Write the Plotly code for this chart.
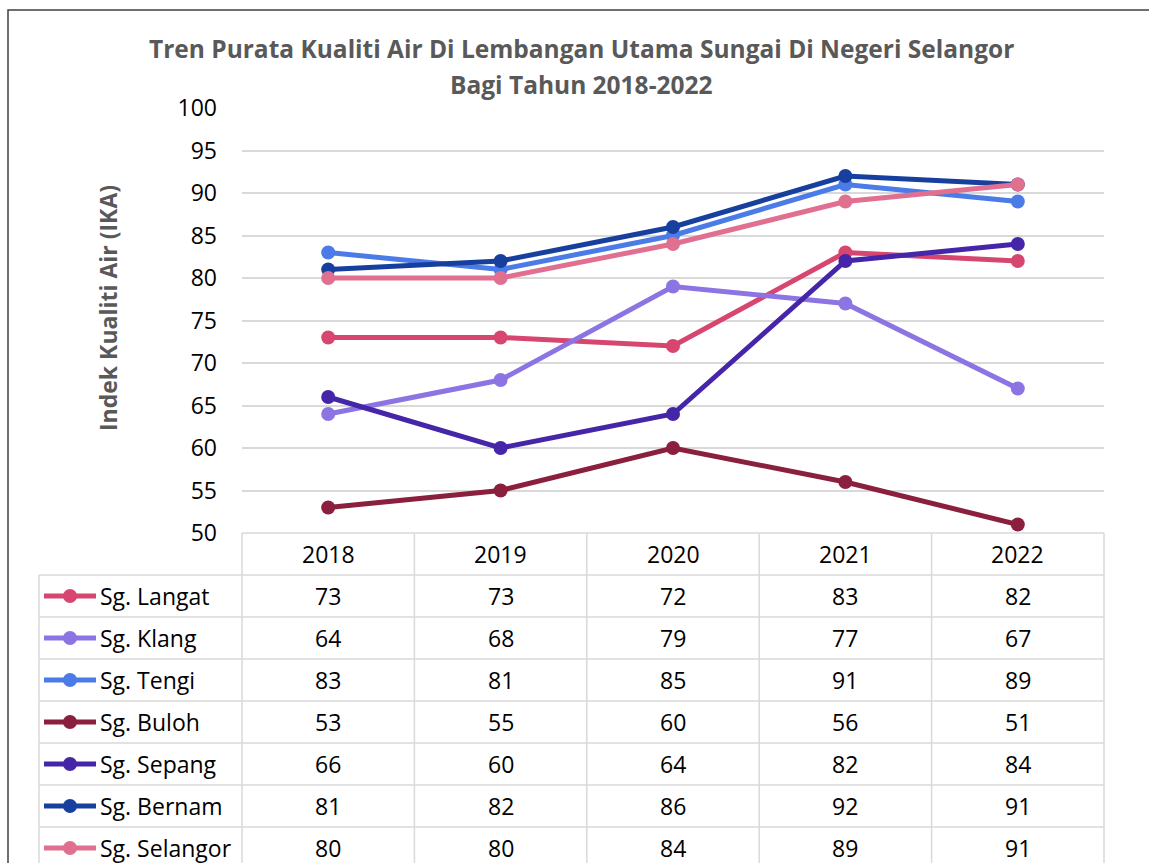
import plotly.graph_objects as go

# ---- data ----
years = ["2018", "2019", "2020", "2021", "2022"]
series_names = ["Sg. Langat", "Sg. Klang", "Sg. Tengi", "Sg. Buloh", "Sg. Sepang", "Sg. Bernam", "Sg. Selangor"]
langat = [73, 73, 72, 83, 82]
klang = [64, 68, 79, 77, 67]
tengi = [83, 81, 85, 91, 89]
buloh = [53, 55, 60, 56, 51]
sepang = [66, 60, 64, 82, 84]
bernam = [81, 82, 86, 92, 91]
selangor = [80, 80, 84, 89, 91]
series_values = [langat, klang, tengi, buloh, sepang, bernam, selangor]
colors = ["#D6466F", "#8C74E2", "#4A7BE6", "#8A1F3E", "#4526A8", "#17409E", "#E06F90"]
y_ticks = [50, 55, 60, 65, 70, 75, 80, 85, 90, 95, 100]
title_lines = ["Tren Purata Kualiti Air Di Lembangan Utama Sungai Di Negeri Selangor", "Bagi Tahun 2018-2022"]
y_title = "Indek Kualiti Air (IKA)"

W, H = 1149, 863
FONT = "Open Sans"

def px(x):
    return x / W

def py(y):
    return 1 - y / H

# plot area in pixels
PL, PR, PT, PB = 242, 1104, 108, 533
ROW_H = 42
HEADER_BOTTOM = PB + ROW_H
LEG_LEFT = 39

fig = go.Figure()
for name, vals, c in zip(series_names, series_values, colors):
    fig.add_trace(go.Scatter(
        x=years, y=vals, name=name, mode="lines+markers",
        line=dict(color=c, width=5),
        marker=dict(color=c, size=14),
        showlegend=False,
    ))

shapes = []
annotations = []
grid = "#D9D9D9"

# table horizontal lines
shapes.append(dict(type="line", xref="paper", yref="paper", x0=px(PL), x1=px(PR), y0=py(PB), y1=py(PB),
                   line=dict(color=grid, width=1.5)))
for i in range(len(series_names) + 1):
    yy = HEADER_BOTTOM + i * ROW_H
    shapes.append(dict(type="line", xref="paper", yref="paper", x0=px(LEG_LEFT), x1=px(PR), y0=py(yy), y1=py(yy),
                       line=dict(color=grid, width=1.5)))
# vertical lines
bottom = HEADER_BOTTOM + len(series_names) * ROW_H + 10
shapes.append(dict(type="line", xref="paper", yref="paper", x0=px(LEG_LEFT), x1=px(LEG_LEFT),
                   y0=py(HEADER_BOTTOM), y1=py(bottom), line=dict(color=grid, width=1.5)))
colw = (PR - PL) / len(years)
for j in range(len(years) + 1):
    xx = PL + j * colw
    shapes.append(dict(type="line", xref="paper", yref="paper", x0=px(xx), x1=px(xx),
                       y0=py(PB), y1=py(bottom), line=dict(color=grid, width=1.5)))

TXT = dict(family=FONT, size=23, color="#000")
# header labels
for k, yr in enumerate(years):
    annotations.append(dict(x=k, xref="x", y=py(PB + ROW_H / 2), yref="paper", text=yr, showarrow=False,
                            xanchor="center", yanchor="middle", font=TXT))
# rows
for i, (name, vals, c) in enumerate(zip(series_names, series_values, colors)):
    yc = HEADER_BOTTOM + i * ROW_H + ROW_H / 2
    shapes.append(dict(type="line", xref="paper", yref="paper", x0=px(44), x1=px(96), y0=py(yc), y1=py(yc),
                       line=dict(color=c, width=5)))
    shapes.append(dict(type="circle", xref="paper", yref="paper", x0=px(70 - 7), x1=px(70 + 7),
                       y0=py(yc - 7), y1=py(yc + 7), fillcolor=c, line=dict(color=c, width=0)))
    annotations.append(dict(x=px(98), xref="paper", y=py(yc), yref="paper", text=name, showarrow=False,
                            xanchor="left", yanchor="middle", font=TXT))
    for k, v in enumerate(vals):
        annotations.append(dict(x=k, xref="x", y=py(yc), yref="paper", text=str(v), showarrow=False,
                                xanchor="center", yanchor="middle", font=TXT))

# y axis title
annotations.append(dict(x=px(108), xref="paper", y=py(308), yref="paper", text="<b>%s</b>" % y_title,
                        textangle=-90, showarrow=False, xanchor="center", yanchor="middle",
                        font=dict(family=FONT, size=23, color="#595959")))
# title (two lines)
for line, yc in zip(title_lines, [48, 85]):
    annotations.append(dict(x=px(581), xref="paper", y=py(yc), yref="paper",
                            text="<b>%s</b>" % line, showarrow=False, xanchor="center", yanchor="middle",
                            font=dict(family=FONT, size=24.5, color="#595959")))

# chart border (clipped at right/bottom)
shapes.append(dict(type="rect", xref="paper", yref="paper", x0=px(8), x1=px(1200), y0=py(10), y1=py(900),
                   line=dict(color="#404040", width=1.5), fillcolor="rgba(0,0,0,0)"))

fig.update_layout(
    width=W, height=H, autosize=False,
    margin=dict(l=0, r=0, t=0, b=0, pad=0, autoexpand=False),
    paper_bgcolor="white", plot_bgcolor="white",
    shapes=shapes, annotations=annotations,
    xaxis=dict(domain=[px(PL), px(PR)], type="category", range=[-0.5, 4.5], automargin=False,
               showticklabels=False, showgrid=False, zeroline=False, showline=False),
    yaxis=dict(domain=[py(PB), py(PT)], range=[50, 100], tickvals=y_ticks, automargin=False,
               showgrid=True, gridcolor=grid, gridwidth=1.5, zeroline=False, showline=False,
               ticklabelstandoff=24, tickfont=TXT),
    font=dict(family=FONT),
)

fig.write_html("out.html", config={"displayModeBar": False},
               post_script="document.body.style.margin='0';document.body.style.padding='0';document.documentElement.style.overflow='hidden';")
